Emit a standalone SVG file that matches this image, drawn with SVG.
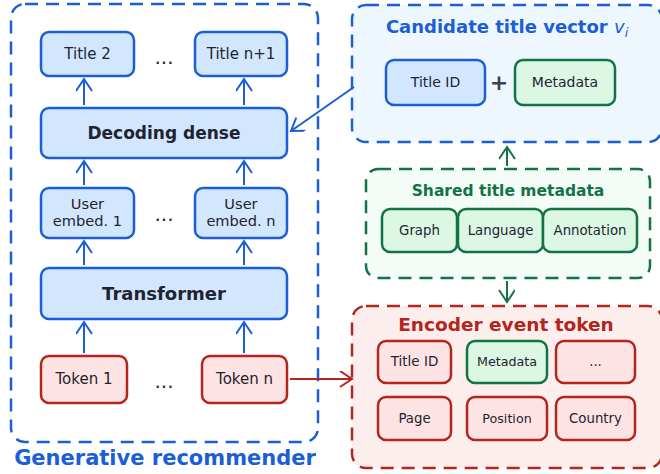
<svg xmlns="http://www.w3.org/2000/svg" width="660" height="474" viewBox="0 0 660 474">
<style>
text{font-family:"DejaVu Sans","Liberation Sans",sans-serif;fill:#1f2430;text-anchor:middle}
.b{stroke:#1c5fd4;stroke-width:2.5;fill:#d2e7fd}
.r{stroke:#b2261e;stroke-width:2.5;fill:#fde3e3}
.g{stroke:#137345;stroke-width:2.5;fill:#dcf7e4}
.t{font-size:15px}
.u{font-size:14.6px}
.s{font-size:13.3px}
.h{font-weight:bold}
.cb{stroke:#1c5fd4;fill:none;stroke-width:2}
.cr{stroke:#b2261e;fill:none;stroke-width:2}
.cg{stroke:#137345;fill:none;stroke-width:2}
.dash{stroke-width:2.5;stroke-dasharray:13 8}
</style>
<defs>
<marker id="ab" markerUnits="userSpaceOnUse" markerWidth="16" markerHeight="20" refX="13" refY="8" orient="auto"><path d="M1,0 L13,8 L1,16" fill="none" stroke="#1c5fd4" stroke-width="2"/></marker>
<marker id="ar" markerUnits="userSpaceOnUse" markerWidth="16" markerHeight="20" refX="13" refY="8" orient="auto"><path d="M1,0 L13,8 L1,16" fill="none" stroke="#b2261e" stroke-width="2"/></marker>
<marker id="ag" markerUnits="userSpaceOnUse" markerWidth="16" markerHeight="20" refX="13" refY="8" orient="auto"><path d="M1,0 L13,8 L1,16" fill="none" stroke="#137345" stroke-width="2"/></marker>
</defs>

<g id="generative-recommender">
<rect x="11" y="4" width="307" height="438" rx="14" fill="none" stroke="#1c5fd4" class="dash"/>
<text x="165" y="465" style="font-size:21px;font-weight:bold;fill:#1c5fd4">Generative recommender</text>
</g>

<g id="candidate">
<rect x="352" y="5" width="310" height="137" rx="14" fill="#eef6fe" stroke="#1c5fd4" class="dash"/>
<text x="507" y="33" style="font-size:18px;font-weight:bold;fill:#1c5fd4">Candidate title vector <tspan font-weight="normal" font-style="italic">v</tspan><tspan font-weight="normal" font-style="italic" font-size="12.5px" dy="4">i</tspan></text>
</g>

<g id="shared">
<rect x="366" y="169" width="284" height="109" rx="12" fill="#f3fcf6" stroke="#137345" class="dash"/>
<text x="508" y="196" style="font-size:15.5px;font-weight:bold;fill:#137345">Shared title metadata</text>
</g>

<g id="encoder">
<rect x="352" y="306" width="310" height="162" rx="14" fill="#fdeeee" stroke="#b2261e" class="dash"/>
<text x="506" y="331" style="font-size:18.5px;font-weight:bold;fill:#b2261e">Encoder event token</text>
</g>

<g id="connectors">
<line x1="84" y1="105" x2="84" y2="79" class="cb" marker-end="url(#ab)"/>
<line x1="244" y1="105" x2="244" y2="79" class="cb" marker-end="url(#ab)"/>
<line x1="84" y1="185" x2="84" y2="161" class="cb" marker-end="url(#ab)"/>
<line x1="244" y1="185" x2="244" y2="161" class="cb" marker-end="url(#ab)"/>
<line x1="84" y1="265" x2="84" y2="241" class="cb" marker-end="url(#ab)"/>
<line x1="244" y1="265" x2="244" y2="241" class="cb" marker-end="url(#ab)"/>
<line x1="84" y1="353" x2="84" y2="322" class="cb" marker-end="url(#ab)"/>
<line x1="244" y1="353" x2="244" y2="322" class="cb" marker-end="url(#ab)"/>
<line x1="354" y1="87" x2="291" y2="131" class="cb" marker-end="url(#ab)"/>
<line x1="290" y1="379" x2="352" y2="379" class="cr" marker-end="url(#ar)"/>
<line x1="507" y1="166" x2="507" y2="147" class="cg" marker-end="url(#ag)"/>
<line x1="507" y1="281" x2="507" y2="302" class="cg" marker-end="url(#ag)"/>
</g>

<g id="title2"><rect x="41" y="32" width="93" height="44" rx="8" class="b"/><text x="87.5" y="59" class="t">Title 2</text></g>
<g id="dots1"><text x="164" y="64" style="font-size:20px">...</text></g>
<g id="titlen1"><rect x="195" y="32" width="92" height="44" rx="8" class="b"/><text x="241" y="59" class="t">Title n+1</text></g>
<g id="decoding"><rect x="41" y="108" width="246" height="50" rx="8" class="b"/><text x="164" y="139" class="h" style="font-size:17px">Decoding dense</text></g>
<g id="user1"><rect x="41" y="188" width="93" height="50" rx="8" class="b"/><text x="87.5" y="209" class="u">User</text><text x="87.5" y="226" class="u">embed. 1</text></g>
<g id="dots2"><text x="164" y="221" style="font-size:20px">...</text></g>
<g id="usern"><rect x="195" y="188" width="92" height="50" rx="8" class="b"/><text x="241" y="209" class="u">User</text><text x="241" y="226" class="u">embed. n</text></g>
<g id="transformer"><rect x="41" y="268" width="246" height="51" rx="8" class="b"/><text x="164" y="300" class="h" style="font-size:18px">Transformer</text></g>
<g id="token1"><rect x="41" y="356" width="86" height="47" rx="8" class="r"/><text x="84" y="384" class="t">Token 1</text></g>
<g id="dots3"><text x="164" y="388" style="font-size:20px">...</text></g>
<g id="tokenn"><rect x="202" y="356" width="85" height="47" rx="8" class="r"/><text x="244.5" y="384" class="t">Token n</text></g>

<g id="cand-titleid"><rect x="386" y="60" width="99" height="45" rx="8" class="b"/><text x="435.5" y="87" style="font-size:14px">Title ID</text></g>
<g id="plus"><text x="499" y="90" style="font-size:22px;font-weight:bold;fill:#3a4150">+</text></g>
<g id="cand-metadata"><rect x="515" y="60" width="100" height="45" rx="8" class="g"/><text x="565" y="87" style="font-size:14px">Metadata</text></g>

<g id="graph"><rect x="382" y="209" width="75" height="43" rx="8" class="g"/><text x="419.5" y="235" class="s">Graph</text></g>
<g id="language"><rect x="458" y="209" width="85" height="43" rx="8" class="g"/><text x="500.5" y="235" class="s">Language</text></g>
<g id="annotation"><rect x="543" y="209" width="94" height="43" rx="8" class="g"/><text x="590" y="235" class="s">Annotation</text></g>

<g id="enc-titleid"><rect x="378" y="341" width="73" height="42" rx="8" class="r"/><text x="414.5" y="366" style="font-size:13.5px">Title ID</text></g>
<g id="enc-metadata"><rect x="467" y="341" width="80" height="42" rx="8" class="g"/><text x="507" y="366" style="font-size:12.7px">Metadata</text></g>
<g id="enc-dots"><rect x="556" y="341" width="79" height="42" rx="8" class="r"/><text x="595.5" y="366" class="s">...</text></g>
<g id="enc-page"><rect x="378" y="397" width="73" height="43" rx="8" class="r"/><text x="414.5" y="423" class="s">Page</text></g>
<g id="enc-position"><rect x="467" y="397" width="80" height="43" rx="8" class="r"/><text x="507" y="423" style="font-size:12.7px">Position</text></g>
<g id="enc-country"><rect x="556" y="397" width="79" height="43" rx="8" class="r"/><text x="595.5" y="423" class="s">Country</text></g>
</svg>
